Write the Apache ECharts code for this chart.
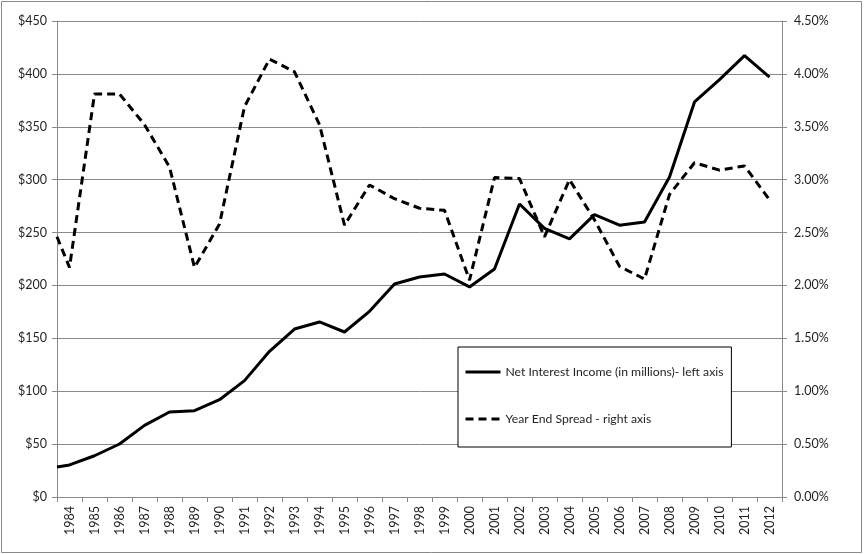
<!DOCTYPE html>
<html>
<head>
<meta charset="utf-8">
<script src="https://cdn.jsdelivr.net/npm/echarts@6/dist/echarts.min.js"></script>
<style>
html,body{margin:0;padding:0;background:#fff;}
#chart{width:864px;height:554px;}
</style>
</head>
<body>
<div id="chart"></div>
<script>
// ---- data ----
var years = [1984,1985,1986,1987,1988,1989,1990,1991,1992,1993,1994,1995,1996,1997,1998,1999,2000,2001,2002,2003,2004,2005,2006,2007,2008,2009,2010,2011,2012];
var incomeStart = 28.4;   // value drawn at the left edge of the plot
var income = [30.3,39.0,50.1,67.7,80.4,81.6,92.0,110.0,137.7,158.8,165.5,156.0,175.5,201.4,208.0,210.8,198.6,215.6,277.0,254.0,244.0,267.0,257.0,260.0,302.6,373.5,394.6,417.3,397.0];
var spreadStart = 2.46;   // value drawn at the left edge of the plot
var spread = [2.17,3.81,3.81,3.52,3.12,2.17,2.58,3.69,4.14,4.02,3.52,2.57,2.95,2.82,2.73,2.71,2.05,3.02,3.01,2.46,3.00,2.62,2.18,2.06,2.86,3.16,3.09,3.13,2.81];
var leftTicks = {min:0, max:450, interval:50};
var rightTicks = {min:0, max:4.5, interval:0.5};
var incomeName = 'Net Interest Income (in millions)- left axis';
var spreadName = 'Year End Spread - right axis';

var xMin = years[0] - 0.5, xMax = years[years.length-1] + 0.5;
function build(startVal, arr){
  var d = [[xMin, startVal]];
  for (var i=0;i<years.length;i++) d.push([years[i], arr[i]]);
  return d;
}

var FONT = 'Lato, "Open Sans", sans-serif';
var TXT = '#1f1f1f';
var GRID = '#8a8a8a';

var chart = echarts.init(document.getElementById('chart'));
chart.setOption({
  animation:false,
  backgroundColor:'#fff',
  textStyle:{fontFamily:FONT},
  graphic:[{type:'rect', shape:{x:1.5,y:1.5,width:860,height:551}, style:{fill:'none', stroke:'#8a8a8a', lineWidth:1}, silent:true, z:-1}],
  grid:{left:57, right:82, top:21, bottom:57, containLabel:false},
  legend:{
    orient:'vertical', left:458, top:347,
    backgroundColor:'#fff', borderColor:'#000', borderWidth:1,
    padding:[19,8,22,6], itemGap:35, itemWidth:35, itemHeight:14, itemTextGap:4,
    itemStyle:{opacity:0},
    lineStyle:{width:3},
    textStyle:{fontFamily:FONT, fontSize:12.2, color:TXT},
    data:[incomeName, spreadName]
  },
  xAxis:[
    {type:'category', data:years.map(String), boundaryGap:true, position:'bottom',
     axisLine:{lineStyle:{color:GRID, width:1}},
     axisTick:{show:true, length:5, lineStyle:{color:GRID}, alignWithLabel:false},
     axisLabel:{rotate:90, fontSize:12.5, color:TXT, fontFamily:FONT, margin:9, interval:0},
     splitLine:{show:false}},
    {type:'value', min:xMin, max:xMax, show:false, splitLine:{show:false}}
  ],
  yAxis:[
    {type:'value', min:leftTicks.min, max:leftTicks.max, interval:leftTicks.interval, position:'left',
     axisLine:{show:true, lineStyle:{color:GRID}},
     axisTick:{show:true, length:5, lineStyle:{color:GRID}},
     axisLabel:{formatter:function(v){return '$'+v;}, fontSize:12.5, color:TXT, fontFamily:FONT, margin:10},
     splitLine:{show:true, lineStyle:{color:GRID, width:1}}},
    {type:'value', min:rightTicks.min, max:rightTicks.max, interval:rightTicks.interval, position:'right',
     axisLine:{show:true, lineStyle:{color:GRID}},
     axisTick:{show:true, length:5, lineStyle:{color:GRID}},
     axisLabel:{formatter:function(v){return v.toFixed(2)+'%';}, fontSize:12.5, color:TXT, fontFamily:FONT, margin:12},
     splitLine:{show:false}}
  ],
  series:[
    {name:incomeName, type:'line', xAxisIndex:1, yAxisIndex:0, data:build(incomeStart, income),
     symbol:'none', lineStyle:{color:'#000', width:3, type:'solid'}, itemStyle:{color:'#000'}},
    {name:spreadName, type:'line', xAxisIndex:1, yAxisIndex:1, data:build(spreadStart, spread),
     symbol:'none', lineStyle:{color:'#000', width:3, type:[8,5]}, itemStyle:{color:'#000'}}
  ]
});
</script>
</body>
</html>
